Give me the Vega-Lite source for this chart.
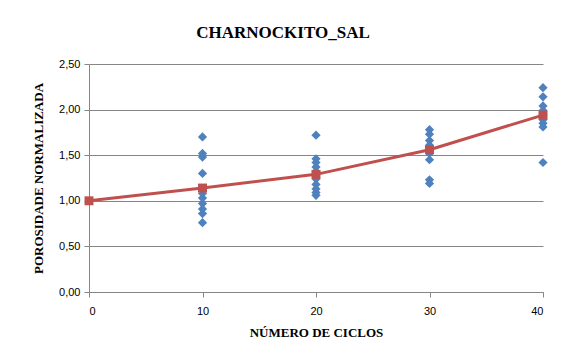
{
  "$schema": "https://vega.github.io/schema/vega-lite/v6.json",
  "width": 454,
  "height": 228,
  "autosize": {"type": "none"},
  "padding": {"left": 89, "top": 64, "right": 20, "bottom": 66},
  "background": "white",
  "config": {
    "locale": {"number": {"decimal": ",", "thousands": ".", "grouping": [3], "currency": ["", ""]}},
    "view": {"stroke": null},
    "axis": {"labelFont": "Liberation Sans", "labelFontSize": 11, "labelColor": "#000000", "titleFont": "Liberation Serif", "titleFontSize": 13, "titleFontWeight": "bold", "titleColor": "#000000", "domainColor": "#868686", "tickColor": "#868686", "gridColor": "#868686", "tickSize": 5}
  },
  "title": {"text": "CHARNOCKITO_SAL", "font": "Liberation Serif", "fontSize": 17, "fontWeight": "bold", "color": "#000000", "anchor": "middle", "offset": 16, "dx": -33},
  "data": {"values": [
    {"ciclos": 10, "porosidade": 1.70, "serie": "amostra"},
    {"ciclos": 10, "porosidade": 1.52, "serie": "amostra"},
    {"ciclos": 10, "porosidade": 1.48, "serie": "amostra"},
    {"ciclos": 10, "porosidade": 1.30, "serie": "amostra"},
    {"ciclos": 10, "porosidade": 1.12, "serie": "amostra"},
    {"ciclos": 10, "porosidade": 1.08, "serie": "amostra"},
    {"ciclos": 10, "porosidade": 1.03, "serie": "amostra"},
    {"ciclos": 10, "porosidade": 0.97, "serie": "amostra"},
    {"ciclos": 10, "porosidade": 0.91, "serie": "amostra"},
    {"ciclos": 10, "porosidade": 0.86, "serie": "amostra"},
    {"ciclos": 10, "porosidade": 0.76, "serie": "amostra"},
    {"ciclos": 20, "porosidade": 1.72, "serie": "amostra"},
    {"ciclos": 20, "porosidade": 1.46, "serie": "amostra"},
    {"ciclos": 20, "porosidade": 1.42, "serie": "amostra"},
    {"ciclos": 20, "porosidade": 1.37, "serie": "amostra"},
    {"ciclos": 20, "porosidade": 1.32, "serie": "amostra"},
    {"ciclos": 20, "porosidade": 1.24, "serie": "amostra"},
    {"ciclos": 20, "porosidade": 1.18, "serie": "amostra"},
    {"ciclos": 20, "porosidade": 1.13, "serie": "amostra"},
    {"ciclos": 20, "porosidade": 1.09, "serie": "amostra"},
    {"ciclos": 20, "porosidade": 1.06, "serie": "amostra"},
    {"ciclos": 30, "porosidade": 1.78, "serie": "amostra"},
    {"ciclos": 30, "porosidade": 1.73, "serie": "amostra"},
    {"ciclos": 30, "porosidade": 1.66, "serie": "amostra"},
    {"ciclos": 30, "porosidade": 1.61, "serie": "amostra"},
    {"ciclos": 30, "porosidade": 1.56, "serie": "amostra"},
    {"ciclos": 30, "porosidade": 1.52, "serie": "amostra"},
    {"ciclos": 30, "porosidade": 1.45, "serie": "amostra"},
    {"ciclos": 30, "porosidade": 1.23, "serie": "amostra"},
    {"ciclos": 30, "porosidade": 1.19, "serie": "amostra"},
    {"ciclos": 40, "porosidade": 2.24, "serie": "amostra"},
    {"ciclos": 40, "porosidade": 2.14, "serie": "amostra"},
    {"ciclos": 40, "porosidade": 2.04, "serie": "amostra"},
    {"ciclos": 40, "porosidade": 1.99, "serie": "amostra"},
    {"ciclos": 40, "porosidade": 1.94, "serie": "amostra"},
    {"ciclos": 40, "porosidade": 1.89, "serie": "amostra"},
    {"ciclos": 40, "porosidade": 1.85, "serie": "amostra"},
    {"ciclos": 40, "porosidade": 1.81, "serie": "amostra"},
    {"ciclos": 40, "porosidade": 1.42, "serie": "amostra"},
    {"ciclos": 0, "porosidade": 1.00, "serie": "media"},
    {"ciclos": 10, "porosidade": 1.14, "serie": "media"},
    {"ciclos": 20, "porosidade": 1.29, "serie": "media"},
    {"ciclos": 30, "porosidade": 1.56, "serie": "media"},
    {"ciclos": 40, "porosidade": 1.94, "serie": "media"}
  ]},
  "encoding": {
    "x": {"field": "ciclos", "type": "quantitative", "scale": {"domain": [0, 40], "nice": false}, "axis": {"title": "NÚMERO DE CICLOS", "values": [0, 10, 20, 30, 40], "grid": false, "labelPadding": 8, "titlePadding": 10}},
    "y": {"field": "porosidade", "type": "quantitative", "scale": {"domain": [0, 2.5], "nice": false}, "axis": {"title": "POROSIDADE NORMALIZADA", "values": [0, 0.5, 1, 1.5, 2, 2.5], "format": ".2f", "grid": true, "labelPadding": 4, "titlePadding": 13}}
  },
  "layer": [
    {
      "transform": [{"filter": "datum.serie == 'amostra'"}],
      "mark": {"type": "point", "shape": "diamond", "filled": true, "size": 85, "color": "#4F81BD", "opacity": 1}
    },
    {
      "transform": [{"filter": "datum.serie == 'media'"}],
      "mark": {"type": "line", "color": "#C0504D", "strokeWidth": 3, "point": {"shape": "square", "filled": true, "size": 80, "color": "#C0504D", "opacity": 1}}
    }
  ]
}
